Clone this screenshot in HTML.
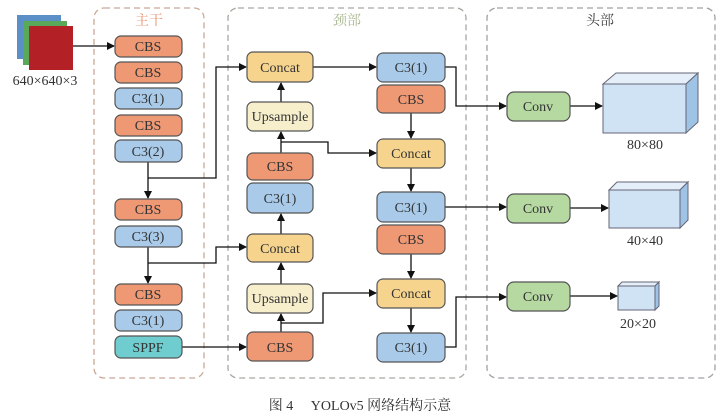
<!DOCTYPE html>
<html><head><meta charset="utf-8"><style>
html,body{margin:0;padding:0;background:#fff;}
svg{display:block;}
text{font-family:"Liberation Serif","Noto Serif CJK SC",serif;fill:#333;}
</style></head><body>
<svg width="721" height="418" viewBox="0 0 721 418" xmlns="http://www.w3.org/2000/svg">
<defs>
<marker id="a" markerWidth="8" markerHeight="8" refX="7" refY="4" orient="auto" markerUnits="userSpaceOnUse">
<path d="M0,0 L8,4 L0,8 z" fill="#111"/></marker>
</defs>
<rect x="94" y="8" width="110" height="370" rx="10" fill="none" stroke="#c8a898" stroke-width="1.3" stroke-dasharray="6,4"/>
<rect x="228" y="8" width="238" height="370" rx="10" fill="none" stroke="#a8a8a0" stroke-width="1.3" stroke-dasharray="6,4"/>
<rect x="487" y="8" width="228" height="370" rx="10" fill="none" stroke="#a0a0a8" stroke-width="1.3" stroke-dasharray="6,4"/>
<text x="149" y="25" font-size="14" text-anchor="middle" style="fill:#e8906a">主干</text>
<text x="347" y="25" font-size="14" text-anchor="middle" style="fill:#a8b890">颈部</text>
<text x="600" y="25" font-size="14" text-anchor="middle" style="fill:#444">头部</text>
<rect x="17" y="15" width="44" height="44" fill="#5b8fc8"/>
<rect x="23" y="21" width="44" height="44" fill="#5aa85a"/>
<rect x="29" y="26" width="44" height="44" fill="#b32025"/>
<text x="45" y="85" font-size="14" text-anchor="middle">640×640×3</text>
<g stroke="#111" stroke-width="1.3" fill="none">
<path d="M73,46 H114" marker-end="url(#a)"/>
<path d="M148,162 V198" marker-end="url(#a)"/>
<path d="M148,178 H216 V67 H246" marker-end="url(#a)"/>
<path d="M148,247 V283" marker-end="url(#a)"/>
<path d="M148,263 H216 V247 H246" marker-end="url(#a)"/>
<path d="M182,347 H246" marker-end="url(#a)"/>
<path d="M313,67 H376" marker-end="url(#a)"/>
<path d="M445,67 H456 V106 H506" marker-end="url(#a)"/>
<path d="M411,113 V138" marker-end="url(#a)"/>
<path d="M281,153 V132" marker-end="url(#a)"/>
<path d="M281,142 H328 V153 H376" marker-end="url(#a)"/>
<path d="M281,102 V83" marker-end="url(#a)"/>
<path d="M411,168 V191" marker-end="url(#a)"/>
<path d="M445,207 H506" marker-end="url(#a)"/>
<path d="M281,234 V214" marker-end="url(#a)"/>
<path d="M281,284 V263" marker-end="url(#a)"/>
<path d="M281,332 V314" marker-end="url(#a)"/>
<path d="M281,323 H323 V293 H376" marker-end="url(#a)"/>
<path d="M411,254 V278" marker-end="url(#a)"/>
<path d="M411,308 V332" marker-end="url(#a)"/>
<path d="M445,347 H456 V297 H506" marker-end="url(#a)"/>
<path d="M570,106 H602" marker-end="url(#a)"/>
<path d="M570,208 H608" marker-end="url(#a)"/>
<path d="M570,296 H617" marker-end="url(#a)"/>
</g>
<g stroke="#555" stroke-width="1.2">
<rect x="115" y="36" width="67" height="21" rx="6" fill="#ee9874"/>
<rect x="115" y="62" width="67" height="21" rx="6" fill="#ee9874"/>
<rect x="115" y="88" width="67" height="21" rx="6" fill="#a9cbe9"/>
<rect x="115" y="115" width="67" height="21" rx="6" fill="#ee9874"/>
<rect x="115" y="140" width="67" height="22" rx="6" fill="#a9cbe9"/>
<rect x="115" y="199" width="67" height="21" rx="6" fill="#ee9874"/>
<rect x="115" y="226" width="67" height="21" rx="6" fill="#a9cbe9"/>
<rect x="115" y="284" width="67" height="21" rx="6" fill="#ee9874"/>
<rect x="115" y="310" width="67" height="21" rx="6" fill="#a9cbe9"/>
<rect x="115" y="336" width="67" height="22" rx="6" fill="#6fcccf"/>
<rect x="247" y="52" width="66" height="30" rx="6" fill="#f6d48e"/>
<rect x="247" y="102" width="66" height="29" rx="6" fill="#f7efcc"/>
<rect x="247" y="153" width="66" height="27" rx="6" fill="#ee9874"/>
<rect x="247" y="183" width="66" height="30" rx="6" fill="#a9cbe9"/>
<rect x="247" y="234" width="66" height="28" rx="6" fill="#f6d48e"/>
<rect x="247" y="284" width="66" height="29" rx="6" fill="#f7efcc"/>
<rect x="247" y="332" width="66" height="29" rx="6" fill="#ee9874"/>
<rect x="377" y="53" width="68" height="29" rx="6" fill="#a9cbe9"/>
<rect x="377" y="85" width="68" height="28" rx="6" fill="#ee9874"/>
<rect x="377" y="139" width="68" height="29" rx="6" fill="#f6d48e"/>
<rect x="377" y="192" width="68" height="30" rx="6" fill="#a9cbe9"/>
<rect x="377" y="225" width="68" height="29" rx="6" fill="#ee9874"/>
<rect x="377" y="279" width="68" height="29" rx="6" fill="#f6d48e"/>
<rect x="377" y="333" width="68" height="29" rx="6" fill="#a9cbe9"/>
<rect x="507" y="92" width="63" height="29" rx="7" fill="#b6d9a2"/>
<rect x="507" y="194" width="63" height="29" rx="7" fill="#b6d9a2"/>
<rect x="507" y="282" width="63" height="29" rx="7" fill="#b6d9a2"/>
</g>
<g font-size="14" text-anchor="middle">
<text x="148" y="51">CBS</text><text x="148" y="77">CBS</text>
<text x="148" y="103">C3(1)</text><text x="148" y="130">CBS</text>
<text x="148" y="156">C3(2)</text><text x="148" y="214">CBS</text>
<text x="148" y="241">C3(3)</text><text x="148" y="299">CBS</text>
<text x="148" y="325">C3(1)</text><text x="148" y="352">SPPF</text>
<text x="280" y="72">Concat</text><text x="280" y="121">Upsample</text>
<text x="280" y="171">CBS</text><text x="280" y="203">C3(1)</text>
<text x="280" y="253">Concat</text><text x="280" y="303">Upsample</text>
<text x="280" y="352">CBS</text>
<text x="411" y="72">C3(1)</text><text x="411" y="104">CBS</text>
<text x="411" y="158">Concat</text><text x="411" y="212">C3(1)</text>
<text x="411" y="244">CBS</text><text x="411" y="298">Concat</text>
<text x="411" y="352">C3(1)</text>
<text x="538" y="111">Conv</text><text x="538" y="213">Conv</text><text x="538" y="301">Conv</text>
</g>
<g stroke="#667" stroke-width="1">
<rect x="603" y="84" width="83" height="49" fill="#cfe3f5"/>
<path d="M603,84 L616,73 L698,73 L686,84 Z" fill="#e4eff9"/>
<path d="M686,84 L698,73 L698,122 L686,133 Z" fill="#9fc3e4"/>
<rect x="609" y="190" width="71" height="38" fill="#cfe3f5"/>
<path d="M609,190 L617,182 L688,182 L680,190 Z" fill="#e4eff9"/>
<path d="M680,190 L688,182 L688,220 L680,228 Z" fill="#9fc3e4"/>
<rect x="618" y="286" width="37" height="24" fill="#cfe3f5"/>
<path d="M618,286 L622,282 L659,282 L655,286 Z" fill="#e4eff9"/>
<path d="M655,286 L659,282 L659,306 L655,310 Z" fill="#9fc3e4"/>
</g>
<g font-size="14" text-anchor="middle">
<text x="645" y="149">80×80</text>
<text x="645" y="245">40×40</text>
<text x="638" y="328">20×20</text>
</g>
<text x="360" y="410" font-size="14" text-anchor="middle">图 4　 YOLOv5 网络结构示意</text>
</svg>
</body></html>
